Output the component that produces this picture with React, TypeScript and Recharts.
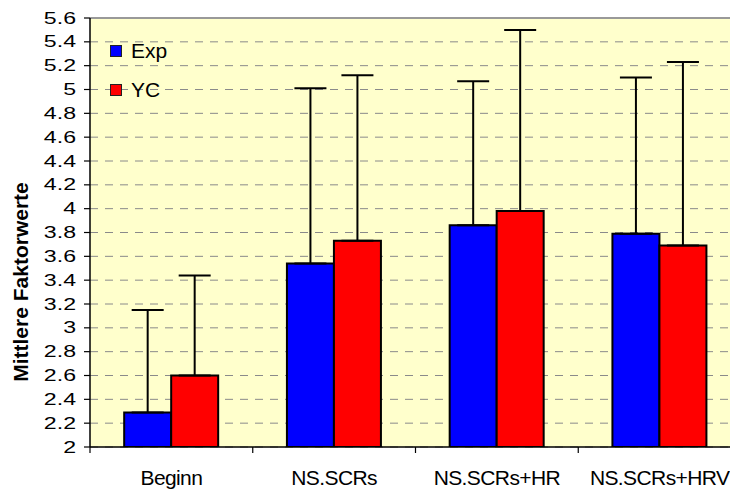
import React from 'react';
import { BarChart, Bar, XAxis, YAxis, CartesianGrid, ErrorBar, Legend, ReferenceLine, Label } from 'recharts';

const categories = ['Beginn', 'NS.SCRs', 'NS.SCRs+HR', 'NS.SCRs+HRV'];
const expMeans = [2.29, 3.54, 3.86, 3.79];
const ycMeans = [2.6, 3.73, 3.98, 3.69];
const expSD = [0.86, 1.47, 1.21, 1.31];
const ycSD = [0.84, 1.39, 1.52, 1.54];
const yTicks = [2, 2.2, 2.4, 2.6, 2.8, 3, 3.2, 3.4, 3.6, 3.8, 4, 4.2, 4.4, 4.6, 4.8, 5, 5.2, 5.4, 5.6];

const WIDTH = 741;
const HEIGHT = 490;
const MARGIN = { top: 18, right: 0, bottom: 0, left: 0 };
const YAXIS_W = 90;
const XAXIS_H = 43;
const AXIS_Y = HEIGHT - MARGIN.bottom - XAXIS_H;
const BAND = (WIDTH - MARGIN.left - YAXIS_W - MARGIN.right) / categories.length;
const FONT = '"Liberation Sans", Arial, sans-serif';

const chartData = categories.map((name, i) => ({
  name,
  Exp: expMeans[i],
  YC: ycMeans[i],
  expErr: [0, expSD[i]],
  ycErr: [0, ycSD[i]],
}));

const YTick = ({ x, y, payload }: any) => (
  <g transform={`translate(${x},${y})`}>
    <text
      x={0}
      y={0}
      dy={5.5}
      textAnchor="end"
      transform="scale(1.36,1)"
      fontFamily={FONT}
      fontSize={17}
      fill="#000"
    >
      {payload.value}
    </text>
  </g>
);

const XTick = ({ x, payload }: any) => (
  <g>
    <line x1={x - BAND / 2} x2={x - BAND / 2} y1={AXIS_Y} y2={AXIS_Y + 6} stroke="#000" strokeWidth={1.2} />
    <text x={x} y={AXIS_Y + 38} textAnchor="middle" fontFamily={FONT} fontSize={21} letterSpacing={-0.6} fill="#000">
      {payload.value}
    </text>
  </g>
);

const legendItems = [
  { name: 'Exp', color: '#0000FF' },
  { name: 'YC', color: '#FF0000' },
];

const LegendBox = () => (
  <div>
    {legendItems.map((item) => (
      <div key={item.name} style={{ display: 'flex', alignItems: 'center', height: 39 }}>
        <span
          style={{
            display: 'inline-block',
            width: 10,
            height: 10,
            background: item.color,
            border: '1.5px solid #222',
            marginRight: 9,
          }}
        />
        <span style={{ fontFamily: FONT, fontSize: 21, color: '#000' }}>{item.name}</span>
      </div>
    ))}
  </div>
);

const App: React.FC = () => {
  return (
    <div style={{ position: 'absolute', left: 0, top: 0, width: 730, height: 490, overflow: 'hidden', background: '#fff' }}>
      <BarChart
        width={WIDTH}
        height={HEIGHT}
        data={chartData}
        margin={MARGIN}
        barCategoryGap="21%"
        barGap={0}
      >
        <CartesianGrid vertical={false} stroke="#8a8a8a" strokeDasharray="8 7" fill="#FFFFCC" />
        <XAxis
          dataKey="name"
          height={XAXIS_H}
          axisLine={{ stroke: '#000', strokeWidth: 1.5 }}
          tickLine={false}
          tick={<XTick />}
          interval={0}
        />
        <YAxis
          width={YAXIS_W}
          domain={[2, 5.6]}
          ticks={yTicks}
          allowDataOverflow
          axisLine={{ stroke: '#000', strokeWidth: 1.5 }}
          tickLine={{ stroke: '#000', strokeWidth: 1.2 }}
          tickSize={6}
          tickMargin={8}
          tick={<YTick />}
          interval={0}
        >
          <Label
            content={() => (
              <text
                transform="translate(28,282) rotate(-90)"
                textAnchor="middle"
                fontFamily={FONT}
                fontSize={21}
                fontWeight="bold"
                fill="#000"
              >
                Mittlere Faktorwerte
              </text>
            )}
          />
        </YAxis>
        <ReferenceLine y={5.6} stroke="#999" strokeWidth={2} />
        <Legend
          layout="vertical"
          align="center"
          verticalAlign="middle"
          content={<LegendBox />}
          wrapperStyle={{ position: 'absolute', left: 110, top: 31, width: 'auto', height: 'auto' }}
        />
        <Bar dataKey="Exp" fill="#0000FF" stroke="#000" strokeWidth={2} isAnimationActive={false}>
          <ErrorBar dataKey="expErr" width={16} stroke="#000" strokeWidth={2} direction="y" />
        </Bar>
        <Bar dataKey="YC" fill="#FF0000" stroke="#000" strokeWidth={2} isAnimationActive={false}>
          <ErrorBar dataKey="ycErr" width={16} stroke="#000" strokeWidth={2} direction="y" />
        </Bar>
      </BarChart>
    </div>
  );
};

export default App;
